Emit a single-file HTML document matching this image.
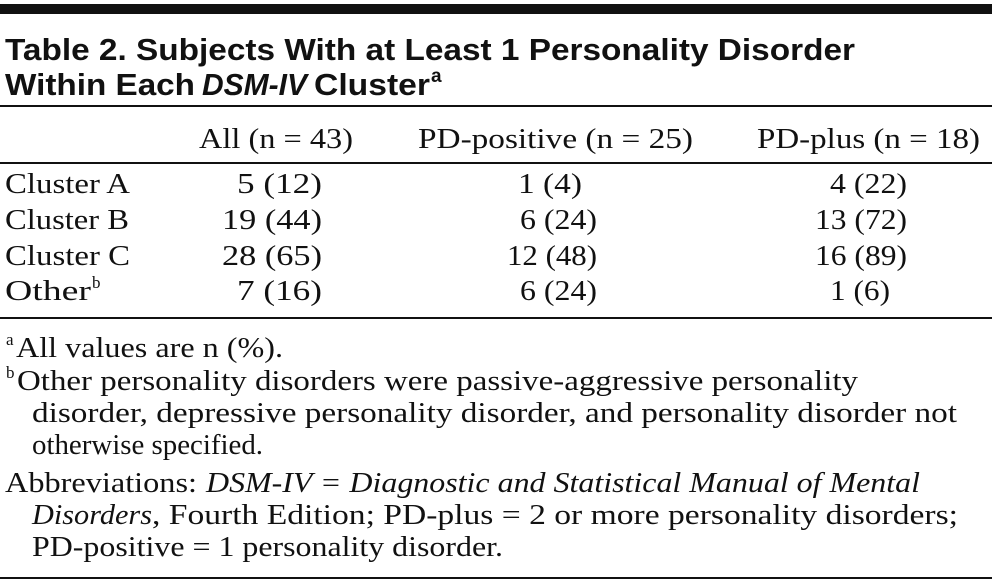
<!DOCTYPE html>
<html><head><meta charset="utf-8">
<style>
html,body{margin:0;padding:0;background:#fff;}
svg{display:block;}
.t{font-family:"Liberation Sans",sans-serif;font-weight:bold;font-size:31px;fill:#111;}
.s{font-family:"Liberation Serif",serif;font-size:28px;fill:#111;}
.sup{font-family:"Liberation Serif",serif;font-size:17px;fill:#111;}
</style></head>
<body>
<svg width="992" height="588" viewBox="0 0 992 588">
<rect x="0" y="4" width="992" height="10" fill="#111"/>
<text class="t" x="5" y="60" textLength="850" lengthAdjust="spacingAndGlyphs">Table 2. Subjects With at Least 1 Personality Disorder</text>
<g>
<text class="t" x="5" y="95" textLength="190" lengthAdjust="spacingAndGlyphs">Within Each</text>
<text class="t" x="202" y="95" textLength="105" lengthAdjust="spacingAndGlyphs" font-style="italic">DSM-IV</text>
<text class="t" x="314" y="95" textLength="116" lengthAdjust="spacingAndGlyphs">Cluster</text>
<text class="t" x="431" y="82" style="font-size:19px">a</text>
</g>
<rect x="0" y="105" width="992" height="2" fill="#111"/>
<text class="s" x="199" y="148" textLength="154" lengthAdjust="spacingAndGlyphs">All (n = 43)</text>
<text class="s" x="418" y="148" textLength="275" lengthAdjust="spacingAndGlyphs">PD-positive (n = 25)</text>
<text class="s" x="757" y="148" textLength="223" lengthAdjust="spacingAndGlyphs">PD-plus (n = 18)</text>
<rect x="0" y="162" width="992" height="2" fill="#111"/>

<text class="s" x="5" y="193" textLength="125" lengthAdjust="spacingAndGlyphs">Cluster A</text>
<text class="s" x="237" y="193" textLength="85" lengthAdjust="spacingAndGlyphs">5 (12)</text>
<text class="s" x="518" y="193" textLength="64" lengthAdjust="spacingAndGlyphs">1 (4)</text>
<text class="s" x="830" y="193" textLength="77" lengthAdjust="spacingAndGlyphs">4 (22)</text>

<text class="s" x="5" y="229" textLength="124" lengthAdjust="spacingAndGlyphs">Cluster B</text>
<text class="s" x="222" y="229" textLength="100" lengthAdjust="spacingAndGlyphs">19 (44)</text>
<text class="s" x="520" y="229" textLength="77" lengthAdjust="spacingAndGlyphs">6 (24)</text>
<text class="s" x="815" y="229" textLength="92" lengthAdjust="spacingAndGlyphs">13 (72)</text>

<text class="s" x="5" y="265" textLength="125" lengthAdjust="spacingAndGlyphs">Cluster C</text>
<text class="s" x="222" y="265" textLength="100" lengthAdjust="spacingAndGlyphs">28 (65)</text>
<text class="s" x="507" y="265" textLength="90" lengthAdjust="spacingAndGlyphs">12 (48)</text>
<text class="s" x="815" y="265" textLength="92" lengthAdjust="spacingAndGlyphs">16 (89)</text>

<g>
<text class="s" x="5" y="300" textLength="86" lengthAdjust="spacingAndGlyphs">Other</text>
<text class="sup" x="92" y="288">b</text>
</g>
<text class="s" x="237" y="300" textLength="85" lengthAdjust="spacingAndGlyphs">7 (16)</text>
<text class="s" x="520" y="300" textLength="77" lengthAdjust="spacingAndGlyphs">6 (24)</text>
<text class="s" x="830" y="300" textLength="60" lengthAdjust="spacingAndGlyphs">1 (6)</text>
<rect x="0" y="317" width="992" height="2" fill="#111"/>

<g>
<text class="sup" x="6" y="345">a</text>
<text class="s" x="16" y="357" textLength="267" lengthAdjust="spacingAndGlyphs">All values are n (%).</text>
</g>
<g>
<text class="sup" x="6" y="378">b</text>
<text class="s" x="17" y="390" textLength="841" lengthAdjust="spacingAndGlyphs">Other personality disorders were passive-aggressive personality</text>
<text class="s" x="32" y="422" textLength="925" lengthAdjust="spacingAndGlyphs">disorder, depressive personality disorder, and personality disorder not</text>
<text class="s" x="32" y="454" textLength="231" lengthAdjust="spacingAndGlyphs">otherwise specified.</text>
</g>
<g>
<text class="s" x="5" y="492" textLength="192" lengthAdjust="spacingAndGlyphs">Abbreviations:</text>
<text class="s" x="206" y="492" textLength="714" lengthAdjust="spacingAndGlyphs" font-style="italic">DSM-IV = Diagnostic and Statistical Manual of Mental</text>
<text class="s" x="32" y="524" textLength="120" lengthAdjust="spacingAndGlyphs" font-style="italic">Disorders</text>
<text class="s" x="152" y="524" textLength="806" lengthAdjust="spacingAndGlyphs">, Fourth Edition; PD-plus = 2 or more personality disorders;</text>
<text class="s" x="32" y="556" textLength="471" lengthAdjust="spacingAndGlyphs">PD-positive = 1 personality disorder.</text>
</g>
<rect x="0" y="577" width="992" height="2" fill="#111"/>
</svg>
</body></html>
